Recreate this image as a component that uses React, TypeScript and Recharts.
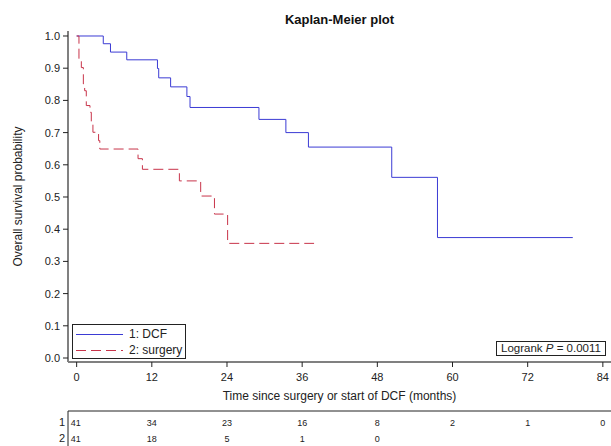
import React from "react"
import { LineChart, Line, XAxis, YAxis } from "recharts"

// Kaplan-Meier estimates (time in months, survival probability)
const dcfTime = [0, 4.25, 5.4, 8.0, 12.9, 13.1, 15.0, 17.6, 18.1, 29.1, 33.4, 37.0, 50.3, 57.6, 79.2]
const dcfSurv = [1.0, 0.976, 0.95, 0.926, 0.899, 0.87, 0.842, 0.812, 0.778, 0.741, 0.7, 0.655, 0.561, 0.374, 0.374]

const surgeryTime = [0, 0.37, 0.75, 1.07, 1.28, 1.54, 2.13, 2.34, 2.6, 3.5, 3.7, 9.8, 10.5, 16.4, 19.8, 22.0, 24.1, 37.9]
const surgerySurv = [1.0, 0.928, 0.902, 0.851, 0.83, 0.784, 0.763, 0.727, 0.701, 0.675, 0.649, 0.619, 0.586, 0.55, 0.503, 0.447, 0.356, 0.356]

const monthTicks = [0, 12, 24, 36, 48, 60, 72, 84]
const survTicks = [0, 0.1, 0.2, 0.3, 0.4, 0.5, 0.6, 0.7, 0.8, 0.9, 1.0]

// numbers at risk at each month tick
const riskDCF = [41, 34, 23, 16, 8, 2, 1, 0]
const riskSurgery = [41, 18, 5, 1, 0]

const dcfData = dcfTime.map((t, i) => ({ t, s: dcfSurv[i] }))
const surgeryData = surgeryTime.map((t, i) => ({ t, s: surgerySurv[i] }))

const FONT = '"Liberation Sans", Arial, sans-serif'
const BLUE = "#3b3bd4"
const RED = "#c8344a"
const GREY = "#808080"
const INK = "#222"
const W = 611
const H = 446
const PLOT_LEFT = 68
const TICK_SIZE = 5
const TICK_MARGIN = 6
const X_DOMAIN: [number, number] = [-1.38, 85.3]
const Y_DOMAIN: [number, number] = [-0.0124, 1.0155]

// month label plus the numbers-at-risk table underneath it
function MonthTick(props: any) {
  const { x, y, payload } = props
  const i = monthTicks.indexOf(payload.value)
  const axisY = y - TICK_SIZE - TICK_MARGIN
  const tableY = axisY + 49
  const rows = [
    { name: "1", counts: riskDCF, base: tableY + 14.5 },
    { name: "2", counts: riskSurgery, base: tableY + 30.5 },
  ]
  return (
    <g>
      <text x={x} y={y} dy="0.71em" textAnchor="middle" fontSize={11} fill={INK}>
        {payload.value}
      </text>
      {i === 0 && (
        <g>
          <line x1={PLOT_LEFT} x2={W} y1={tableY} y2={tableY} stroke={INK} />
          <line x1={PLOT_LEFT} x2={PLOT_LEFT} y1={tableY} y2={H} stroke={INK} />
        </g>
      )}
      {rows.map((r) => (
        <g key={r.name}>
          {i === 0 && (
            <text x={PLOT_LEFT - 3} y={r.base + 0.5} textAnchor="end" fontSize={11} fill={INK}>
              {r.name}
            </text>
          )}
          {r.counts[i] !== undefined && (
            <text
              x={i === 0 ? x - 6 : x}
              y={r.base}
              textAnchor={i === 0 ? "start" : "middle"}
              fontSize={9}
              fill={INK}
            >
              {r.counts[i]}
            </text>
          )}
        </g>
      ))}
    </g>
  )
}

export default function App() {
  return (
    <div style={{ position: "absolute", left: 0, top: 0, width: W, height: H, fontFamily: FONT, background: "#fff" }}>
      <LineChart width={W} height={H} margin={{ top: 31, right: 0, bottom: 0, left: 0 }}>
        <XAxis
          xAxisId="top"
          orientation="top"
          type="number"
          domain={X_DOMAIN}
          allowDataOverflow
          height={0}
          tick={false}
          tickLine={false}
          axisLine={{ stroke: GREY, strokeWidth: 2 }}
        />
        <XAxis
          xAxisId="main"
          type="number"
          dataKey="t"
          domain={X_DOMAIN}
          allowDataOverflow
          ticks={monthTicks}
          interval={0}
          height={H - 362}
          tickSize={TICK_SIZE}
          tickMargin={TICK_MARGIN}
          axisLine={{ stroke: GREY, strokeWidth: 2 }}
          tickLine={{ stroke: INK }}
          tick={<MonthTick />}
          label={{ value: "Time since surgery or start of DCF (months)", position: "insideBottom", offset: 46, fontSize: 12, fill: INK }}
        />
        <YAxis
          type="number"
          domain={Y_DOMAIN}
          allowDataOverflow
          ticks={survTicks}
          interval={0}
          width={PLOT_LEFT}
          tickSize={5}
          tickMargin={3}
          tickFormatter={(v: number) => v.toFixed(1)}
          axisLine={{ stroke: GREY, strokeWidth: 2 }}
          tickLine={{ stroke: INK }}
          tick={{ fontSize: 11, fill: INK }}
          label={{
            value: "Overall survival probability",
            angle: -90,
            position: "insideLeft",
            offset: 18,
            fontSize: 12,
            fill: INK,
            style: { textAnchor: "middle" },
          }}
        />
        <Line
          xAxisId="main"
          data={dcfData}
          dataKey="s"
          type="stepAfter"
          stroke={BLUE}
          strokeWidth={1}
          dot={false}
          isAnimationActive={false}
        />
        <Line
          xAxisId="main"
          data={surgeryData}
          dataKey="s"
          type="stepAfter"
          stroke={RED}
          strokeWidth={1}
          strokeDasharray="10 5"
          dot={false}
          isAnimationActive={false}
        />
      </LineChart>

      <div
        style={{
          position: "absolute",
          left: PLOT_LEFT,
          top: 12,
          width: W - PLOT_LEFT,
          textAlign: "center",
          fontSize: 13,
          lineHeight: "16px",
          fontWeight: "bold",
          color: "#111",
        }}
      >
        Kaplan-Meier plot
      </div>

      <div
        style={{
          position: "absolute",
          left: 72,
          top: 324,
          width: 114,
          height: 35,
          boxSizing: "border-box",
          border: `1px solid ${INK}`,
          background: "#fff",
          fontSize: 12,
          color: INK,
        }}
      >
        {[
          { name: "1: DCF", color: BLUE, dash: undefined },
          { name: "2: surgery", color: RED, dash: "10 5" },
        ].map((item) => (
          <div key={item.name} style={{ display: "flex", alignItems: "center", height: 16, marginTop: item.name === "1: DCF" ? 1 : 0 }}>
            <svg width={52} height={16} style={{ flex: "none" }}>
              <line x1={3} x2={50} y1={8.5} y2={8.5} stroke={item.color} strokeDasharray={item.dash} />
            </svg>
            <span style={{ marginLeft: 4, whiteSpace: "nowrap" }}>{item.name}</span>
          </div>
        ))}
      </div>

      <div
        style={{
          position: "absolute",
          left: 496,
          top: 341,
          width: 110,
          height: 15,
          boxSizing: "border-box",
          border: `1px solid ${INK}`,
          background: "#fff",
          fontSize: 11.5,
          lineHeight: "13px",
          color: INK,
          textAlign: "center",
          whiteSpace: "nowrap",
        }}
      >
        Logrank <i>P</i> = 0.0011
      </div>
    </div>
  )
}
